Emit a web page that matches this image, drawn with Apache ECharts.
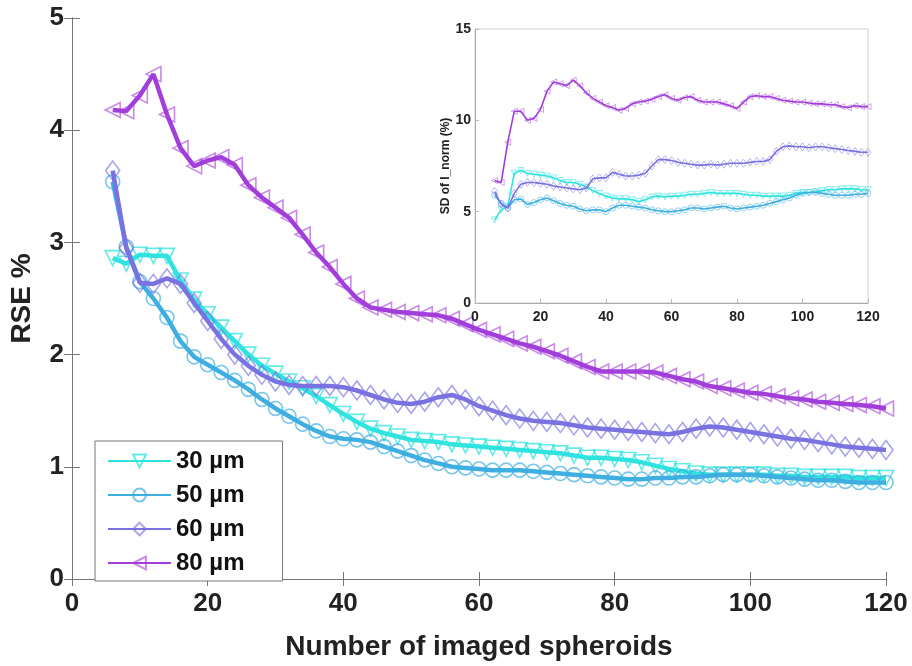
<!DOCTYPE html>
<html>
<head>
<meta charset="utf-8">
<script src="https://cdn.jsdelivr.net/npm/echarts@6/dist/echarts.min.js"></script>
<style>
html,body{margin:0;padding:0;background:#fff;}
#c{width:912px;height:666px;}
</style>
</head>
<body>
<div id="c"></div>
<script>
// x values (number of imaged spheroids)
const xValues = [6,8,10,12,14,16,18,20,22,24,26,28,30,32,34,36,38,40,42,44,46,48,50,52,54,56,58,60,62,64,66,68,70,72,74,76,78,80,82,84,86,88,90,92,94,96,98,100,102,104,106,108,110,112,114,116,118,120];

// Main chart: RSE %
const rse30 = [2.86,2.81,2.89,2.88,2.88,2.66,2.49,2.36,2.24,2.12,2.00,1.90,1.83,1.76,1.70,1.63,1.55,1.47,1.40,1.34,1.30,1.27,1.24,1.23,1.22,1.20,1.19,1.18,1.17,1.16,1.15,1.14,1.13,1.12,1.10,1.08,1.08,1.07,1.06,1.04,1.01,0.98,0.96,0.94,0.93,0.93,0.93,0.93,0.93,0.92,0.92,0.91,0.91,0.91,0.91,0.90,0.90,0.90];
const rse50 = [3.54,2.96,2.65,2.50,2.33,2.12,1.98,1.91,1.84,1.77,1.69,1.60,1.52,1.45,1.38,1.32,1.27,1.25,1.24,1.22,1.18,1.14,1.10,1.06,1.03,1.00,0.99,0.98,0.97,0.97,0.97,0.96,0.95,0.94,0.93,0.92,0.91,0.90,0.89,0.89,0.90,0.90,0.91,0.91,0.92,0.93,0.93,0.93,0.92,0.91,0.90,0.89,0.88,0.88,0.87,0.86,0.86,0.86];
const rse60 = [3.64,2.95,2.64,2.63,2.68,2.63,2.46,2.30,2.14,2.00,1.90,1.82,1.76,1.73,1.72,1.72,1.72,1.71,1.68,1.64,1.60,1.57,1.56,1.58,1.62,1.64,1.60,1.54,1.50,1.46,1.43,1.41,1.40,1.39,1.37,1.35,1.34,1.33,1.32,1.31,1.30,1.29,1.31,1.34,1.36,1.35,1.33,1.31,1.29,1.27,1.25,1.24,1.22,1.20,1.18,1.17,1.16,1.15];
const rse80 = [4.18,4.17,4.31,4.50,4.14,3.84,3.68,3.73,3.76,3.69,3.51,3.40,3.31,3.22,3.07,2.91,2.78,2.63,2.50,2.42,2.40,2.38,2.37,2.36,2.35,2.32,2.27,2.22,2.18,2.14,2.10,2.07,2.03,1.99,1.94,1.89,1.85,1.85,1.85,1.85,1.84,1.81,1.78,1.76,1.72,1.70,1.68,1.66,1.65,1.63,1.61,1.60,1.58,1.57,1.56,1.55,1.54,1.52];

// Inset: SD of I_norm (%)
const sd30 = [4.55,5.1,5.3,7.1,7.25,7.1,7.05,7.0,6.95,6.85,6.7,6.6,6.6,6.5,6.35,6.15,6.0,5.85,5.75,5.7,5.7,5.65,5.55,5.65,5.8,5.85,5.8,5.85,5.85,5.9,5.95,5.95,6.0,6.05,6.0,6.0,6.0,6.0,5.95,5.9,5.9,5.85,5.85,5.85,5.85,5.9,6.0,6.05,6.05,6.1,6.15,6.2,6.2,6.25,6.25,6.25,6.2,6.2];
const sd50 = [5.9,5.45,5.2,5.65,5.7,5.4,5.5,5.65,5.75,5.6,5.45,5.35,5.3,5.15,5.05,5.1,5.1,5.0,5.2,5.35,5.35,5.3,5.25,5.2,5.1,5.05,5.0,5.0,5.05,5.1,5.2,5.2,5.15,5.2,5.25,5.3,5.2,5.15,5.2,5.25,5.3,5.35,5.45,5.55,5.65,5.75,5.9,6.0,6.05,6.05,6.0,5.95,5.9,5.9,5.9,5.95,5.95,6.0];
const sd60 = [6.1,5.4,5.2,6.0,6.5,6.6,6.6,6.55,6.5,6.4,6.35,6.3,6.25,6.2,6.3,6.8,6.85,6.85,7.15,7.05,6.95,6.95,7.0,7.1,7.5,7.85,7.85,7.8,7.7,7.65,7.6,7.55,7.55,7.6,7.55,7.6,7.65,7.65,7.65,7.7,7.75,7.75,7.85,8.3,8.55,8.6,8.55,8.55,8.5,8.55,8.55,8.5,8.45,8.4,8.35,8.3,8.25,8.25];
const sd80 = [6.7,6.6,8.8,10.5,10.5,10.0,10.1,10.6,11.6,12.1,12.0,11.9,12.2,11.9,11.5,11.2,11.0,10.8,10.7,10.55,10.65,10.9,11.0,11.05,11.15,11.3,11.4,11.2,11.1,11.25,11.3,11.1,11.0,11.0,11.0,10.9,10.8,10.65,11.0,11.3,11.35,11.3,11.3,11.2,11.1,11.05,11.0,11.0,10.95,10.9,10.9,10.85,10.85,10.75,10.7,10.8,10.75,10.75];

const seriesNames = ['30 µm','50 µm','60 µm','80 µm'];
const mainTicks = [0,1,2,3,4,5];

const lineColors = ['#30E3DF','#3FAEE0','#7A72E0','#A23EDA'];
const markColors = ['rgba(48,227,223,0.75)','rgba(63,174,224,0.7)','rgba(122,114,224,0.65)','rgba(162,62,218,0.6)'];
const symbols = ['triangle','circle','diamond','triangle'];
const rotates = [180,0,0,90];
const mainSizes = [15,14,[14,19],15];
const insetSizes = [6,6,[6,8],6];

const pair = v => xValues.map((x,i)=>[x,v[i]]);
const mainData = [rse30,rse50,rse60,rse80];
const insetData = [sd30,sd50,sd60,sd80];

const FONT = 'Liberation Sans, Arial, sans-serif';
const series = [];
for (let k=0;k<4;k++){
  series.push({
    name: seriesNames[k], type:'line', xAxisIndex:0, yAxisIndex:0,
    data: pair(mainData[k]), symbol: symbols[k], symbolRotate: rotates[k], symbolSize: mainSizes[k],
    lineStyle:{color:lineColors[k], width:4.5},
    itemStyle:{color:'rgba(255,255,255,0)', borderColor:markColors[k], borderWidth:1.6},
    z: 3+k, animation:false
  });
}
for (let k=0;k<4;k++){
  series.push({
    name: seriesNames[k], type:'line', xAxisIndex:2, yAxisIndex:2,
    data: pair(insetData[k]), symbol: symbols[k], symbolRotate: rotates[k], symbolSize: insetSizes[k],
    lineStyle:{color:lineColors[k], width:1.6},
    itemStyle:{color:'rgba(255,255,255,0)', borderColor:markColors[k], borderWidth:0.8},
    z: 13+k, animation:false
  });
}

const chart = echarts.init(document.getElementById('c'), null, {renderer:'canvas'});
chart.setOption({
  backgroundColor:'#fff',
  animation:false,
  textStyle:{fontFamily:FONT},
  grid:[
    {left:69, top:18, width:817, height:567, show:false},
    {left:475, top:29, width:393, height:274, show:true, backgroundColor:'#fff', borderColor:'#d0d0d0', borderWidth:1, z:10}
  ],
  legend:{
    data:seriesNames, orient:'vertical', left:95, top:441,
    padding:[8,38,6,12], itemGap:10, itemWidth:63, itemHeight:16,
    backgroundColor:'#fff', borderColor:'#777', borderWidth:1,
    textStyle:{fontSize:24, fontWeight:'bold', color:'#111', fontFamily:FONT},
    z:20
  },
  xAxis:[
    {gridIndex:0, type:'value', min:0, max:120, interval:20, position:'bottom',
     name:'Number of imaged spheroids', nameLocation:'middle', nameGap:54,
     nameTextStyle:{fontSize:28, fontWeight:'bold', color:'#222', fontFamily:FONT},
     axisLine:{show:true, lineStyle:{color:'#777', width:1}},
     axisTick:{show:true, inside:true, length:7, lineStyle:{color:'#777'}},
     axisLabel:{fontSize:26, fontWeight:'bold', color:'#222', margin:12, fontFamily:FONT},
     splitLine:{show:false}},
    {gridIndex:0, type:'value', min:0, max:120, interval:20, position:'top',
     axisLine:{show:true, lineStyle:{color:'#777', width:1}},
     axisTick:{show:true, inside:true, length:7, lineStyle:{color:'#777'}},
     axisLabel:{show:false}, splitLine:{show:false}},
    {gridIndex:1, type:'value', min:0, max:120, interval:20, position:'bottom',
     axisLine:{show:true, lineStyle:{color:'#aaa', width:1}},
     axisTick:{show:true, inside:true, length:4, lineStyle:{color:'#bbb'}},
     axisLabel:{fontSize:14, fontWeight:'bold', color:'#222', margin:7, fontFamily:FONT},
     splitLine:{show:false}, z:11}
  ],
  yAxis:[
    {gridIndex:0, type:'value', min:mainTicks[0], max:mainTicks[mainTicks.length-1], interval:1,
     name:'RSE %', nameLocation:'middle', nameGap:36, nameRotate:90,
     nameTextStyle:{fontSize:28, fontWeight:'bold', color:'#222', fontFamily:FONT},
     axisLine:{show:true, lineStyle:{color:'#777', width:1}},
     axisTick:{show:true, inside:true, length:8, lineStyle:{color:'#777'}},
     axisLabel:{fontSize:26, fontWeight:'bold', color:'#222', margin:8, fontFamily:FONT},
     splitLine:{show:false}},
    {gridIndex:0, type:'value', min:0, max:5, interval:1, position:'right',
     axisLine:{show:true, lineStyle:{color:'#777', width:1}},
     axisTick:{show:true, inside:true, length:8, lineStyle:{color:'#777'}},
     axisLabel:{show:false}, splitLine:{show:false}},
    {gridIndex:1, type:'value', min:0, max:15, interval:5,
     name:'SD of I_norm (%)', nameLocation:'middle', nameGap:22, nameRotate:90,
     nameTextStyle:{fontSize:12, fontWeight:'bold', color:'#222', fontFamily:FONT},
     axisLine:{show:true, lineStyle:{color:'#aaa', width:1}},
     axisTick:{show:true, inside:true, length:4, lineStyle:{color:'#bbb'}},
     axisLabel:{fontSize:14, fontWeight:'bold', color:'#222', margin:4, fontFamily:FONT},
     splitLine:{show:false}, z:11}
  ],
  series: series
});
</script>
</body>
</html>
